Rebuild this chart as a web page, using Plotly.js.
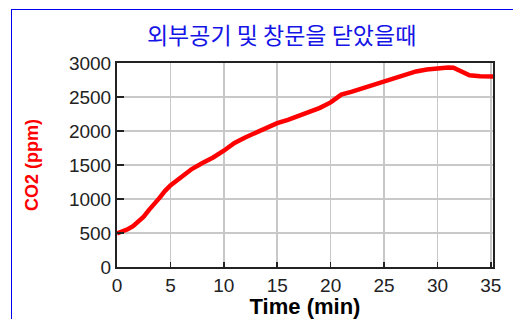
<!DOCTYPE html>
<html>
<head>
<meta charset="utf-8">
<script src="https://cdn.plot.ly/plotly-3.0.1.min.js"></script>
<style>
html,body{margin:0;padding:0;background:#fff;overflow:hidden;}
#wrap{position:relative;width:513px;height:319px;}
#frame{position:absolute;left:11px;top:9px;width:600px;height:400px;border:1px solid #0000ee;pointer-events:none;}
#chart{position:absolute;left:0;top:0;width:513px;height:319px;}
</style>
</head>
<body>
<div id="wrap"><div id="chart"></div><div id="frame"></div></div>
<script>
const timeMin = [0,0.5,1,1.5,2,2.5,3,3.5,4,4.5,5,6,7,8,9,10,11,12,13,14,15,16,17,18,19,20,20.5,21,22,23,24,25,26,27,28,29,30,31,31.5,32,32.5,33,34,35,35.2];
const co2ppm = [493,520,555,600,660,740,840,925,1020,1120,1200,1320,1440,1530,1610,1710,1825,1905,1980,2045,2115,2165,2225,2285,2340,2420,2480,2535,2580,2630,2690,2740,2780,2830,2876,2905,2928,2935,2930,2895,2855,2820,2805,2800,2800];
const xTicks = [0,5,10,15,20,25,30,35];
const yTicks = [0,500,1000,1500,2000,2500,3000];
const titleText = '외부공기 및 창문을 닫았을때';
const xTitle = 'Time (min)';
const yTitle = 'CO2 (ppm)';

const trace = {
  x: timeMin, y: co2ppm, type: 'scatter', mode: 'lines',
  line: {color: '#ff0000', width: 4.5}, hoverinfo: 'none'
};
const layout = {
  width: 513, height: 319,
  margin: {l: 117, r: 20, t: 63, b: 52, pad: 0},
  paper_bgcolor: 'rgba(0,0,0,0)', plot_bgcolor: '#ffffff',
  showlegend: false,
  title: {text: titleText, font: {family: 'Noto Sans CJK KR', size: 23, color: '#1414e6'},
    xref: 'container', yref: 'container', x: 0.549, y: 0.887, xanchor: 'center', yanchor: 'middle'},
  xaxis: {
    range: [0, 35.2], tickvals: xTicks, ticktext: xTicks.map(String),
    showgrid: true, gridcolor: '#c8c8c8', gridwidth: 1.5,
    showline: true, linecolor: '#222', linewidth: 2, mirror: true,
    ticks: 'inside', ticklen: 5, tickcolor: '#222', tickwidth: 1.5,
    zeroline: false,
    tickfont: {family: 'Liberation Sans, Arial', size: 19, color: '#222'},
    title: {text: xTitle, font: {family: 'Liberation Sans, Arial', size: 22, color: '#000', weight: 'bold'}, standoff: 1}
  },
  yaxis: {
    range: [0, 3000], tickvals: yTicks, ticktext: yTicks.map(String),
    showgrid: true, gridcolor: '#c8c8c8', gridwidth: 1.5,
    showline: true, linecolor: '#222', linewidth: 2, mirror: true,
    ticks: 'inside', ticklen: 7, tickcolor: '#222', tickwidth: 1.5,
    zeroline: false,
    tickfont: {family: 'Liberation Sans, Arial', size: 19, color: '#222'},
    title: {text: yTitle, font: {family: 'Liberation Sans, Arial', size: 18, color: '#ff0000', weight: 'bold'}, standoff: 26}
  }
};
Plotly.newPlot('chart', [trace], layout, {staticPlot: true, displayModeBar: false});
</script>
</body>
</html>
